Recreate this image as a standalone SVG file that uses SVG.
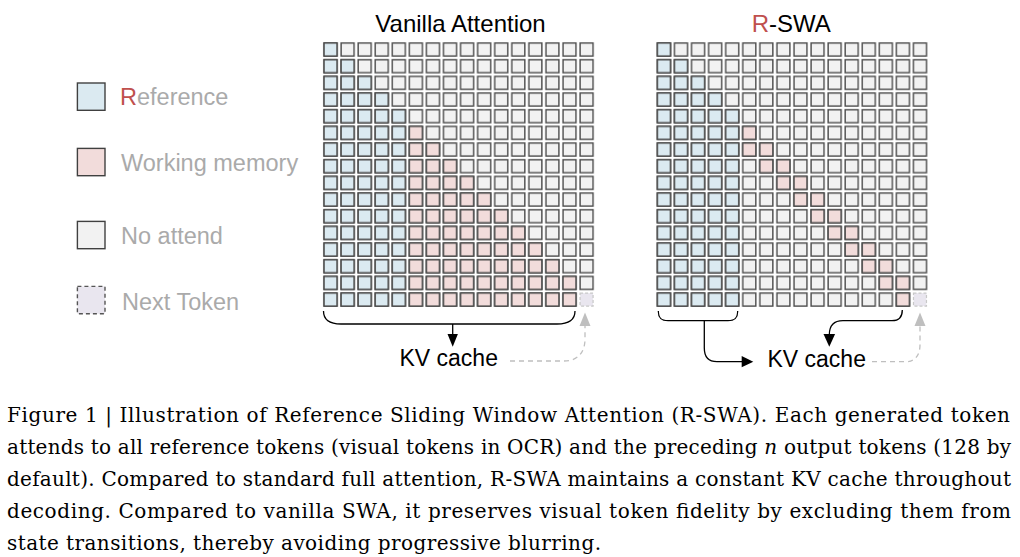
<svg xmlns="http://www.w3.org/2000/svg" width="1020" height="557" viewBox="0 0 1020 557">
<style>
.sans{font-family:"Liberation Sans",Arial,sans-serif}
.title{font-size:24px;fill:#000}
.leg{font-size:23.5px;fill:#aaaaaa}
.red{fill:#c0504d}
.kv{font-size:23px;fill:#000}
.cap{font-family:"DejaVu Serif","Liberation Serif",serif;font-size:20px;fill:#000}
.lb{stroke:#404040;stroke-width:1.4}
.ln{fill:none;stroke:#000;stroke-width:1.3}
.dash{fill:none;stroke:#bfbfbf;stroke-width:1.3;stroke-dasharray:5 4}
.next{fill:#e9e6ef;stroke:#c8c8c8;stroke-width:1.2;stroke-dasharray:3 2}
</style>
<defs>
<pattern id="pg" patternUnits="userSpaceOnUse" x="0" y="0" width="17.07" height="16.67"><rect x="2.035" y="1.835" width="13" height="13" fill="#f2f2f2" stroke="#4a4a4a" stroke-width="1.4"/></pattern>
<pattern id="pb" patternUnits="userSpaceOnUse" x="0" y="0" width="17.07" height="16.67"><rect x="2.035" y="1.835" width="13" height="13" fill="#dbeaf1" stroke="#4a4a4a" stroke-width="1.4"/></pattern>
<pattern id="pp" patternUnits="userSpaceOnUse" x="0" y="0" width="17.07" height="16.67"><rect x="2.035" y="1.835" width="13" height="13" fill="#f2dcdb" stroke="#4a4a4a" stroke-width="1.4"/></pattern>
</defs>

<rect width="1020" height="557" fill="#fff"/>

<g id="legend-reference">
<rect class="lb" x="77.4" y="83" width="27.6" height="27.3" fill="#dbeaf1"/>
<text class="sans leg" x="120" y="105"><tspan class="red">R</tspan>eference</text>
</g>
<g id="legend-working">
<rect class="lb" x="77.4" y="148.4" width="27.6" height="27.3" fill="#f2dcdb"/>
<text class="sans leg" x="121" y="171">Working memory</text>
</g>
<g id="legend-noattend">
<rect class="lb" x="77.4" y="221.4" width="27.6" height="27.3" fill="#f2f2f2"/>
<text class="sans leg" x="121" y="243.5">No attend</text>
</g>
<g id="legend-next">
<rect x="77.4" y="286.4" width="27.6" height="27.3" fill="#e9e6ef" stroke="#555" stroke-width="1.4" stroke-dasharray="4 3"/>
<text class="sans leg" x="122" y="310">Next Token</text>
</g>

<g id="vanilla">
<text class="sans title" x="460.5" y="32" text-anchor="middle">Vanilla Attention</text>
<g transform="translate(322,41.2)">
<polygon fill="url(#pg)" points="0,0 273.12,0 273.12,250.05 256.05,250.05 256.05,266.72 0,266.72"/>
<polygon fill="url(#pb)" points="0,0 17.07,0 17.07,16.67 34.14,16.67 34.14,33.34 51.21,33.34 51.21,50.01 68.28,50.01 68.28,66.68 85.35,66.68 85.35,266.72 0,266.72"/>
<polygon fill="url(#pp)" points="85.35,83.35 102.42,83.35 102.42,100.02 119.49,100.02 119.49,116.69 136.56,116.69 136.56,133.36 153.63,133.36 153.63,150.03 170.7,150.03 170.7,166.7 187.77,166.7 187.77,183.37 204.84,183.37 204.84,200.04 221.91,200.04 221.91,216.71 238.98,216.71 238.98,233.38 256.05,233.38 256.05,266.72 85.35,266.72"/>
<rect class="next" x="258.085" y="251.885" width="13" height="13"/>
</g>
<text class="sans kv" x="399.5" y="366">KV cache</text>
</g>

<g id="rswa">
<text class="sans title" x="791.3" y="32" text-anchor="middle"><tspan class="red">R</tspan>-SWA</text>
<g transform="translate(655.4,41.2)">
<polygon fill="url(#pg)" points="0,0 273.12,0 273.12,250.05 256.05,250.05 256.05,266.72 0,266.72"/>
<polygon fill="url(#pb)" points="0,0 17.07,0 17.07,16.67 34.14,16.67 34.14,33.34 51.21,33.34 51.21,50.01 68.28,50.01 68.28,66.68 85.35,66.68 85.35,266.72 0,266.72"/>
<polygon fill="url(#pp)" points="85.35,83.35 102.42,83.35 102.42,100.02 119.49,100.02 119.49,116.69 136.56,116.69 136.56,133.36 153.63,133.36 153.63,150.03 170.7,150.03 170.7,166.7 187.77,166.7 187.77,183.37 204.84,183.37 204.84,200.04 221.91,200.04 221.91,216.71 238.98,216.71 238.98,233.38 256.05,233.38 256.05,266.72 238.98,266.72 238.98,250.05 221.91,250.05 221.91,233.38 204.84,233.38 204.84,216.71 187.77,216.71 187.77,200.04 170.7,200.04 170.7,183.37 153.63,183.37 153.63,166.7 136.56,166.7 136.56,150.03 119.49,150.03 119.49,133.36 102.42,133.36 102.42,116.69 85.35,116.69"/>
<rect class="next" x="258.085" y="251.885" width="13" height="13"/>
</g>
<text class="sans kv" x="767.5" y="367">KV cache</text>
</g>

<g id="connectors">
<path class="ln" d="M323.5,311 C323.5,320 329,324 341,324 L557,324 C569,324 575,320 575,311"/>
<path class="ln" d="M452.7,324 L452.7,335"/>
<polygon points="452.7,346.7 447.5,334 457.9,334" fill="#000"/>
<path class="dash" d="M510,361 L564,361 C578,361 585,352 585,339 L585,326"/>
<polygon points="585,312.5 579.5,326 590.5,326" fill="#bfbfbf"/>

<path class="ln" d="M658.3,311 C658.3,318 661,320.7 668,320.7 L728,320.7 C735,320.7 737.7,318 737.7,311"/>
<path class="ln" d="M704.3,320.7 L704.3,348 C704.3,357 709,361.7 717,361.7 L742,361.7"/>
<polygon points="753.3,361.7 741.7,356 741.7,367.3" fill="#000"/>
<path class="ln" d="M902.3,310 C902.3,317 899,320.7 892,320.7 L843,320.7 C834,320.7 829.3,326 829.3,335"/>
<polygon points="829.3,346.7 823.5,334 835.1,334" fill="#000"/>
<path class="dash" d="M872,361.7 L906,361.7 C915,361.7 920,355 920,345 L920,326"/>
<polygon points="920,312.5 914.5,326 925.5,326" fill="#bfbfbf"/>
</g>

<g id="caption">
<text class="cap" x="7" y="422" textLength="1003" lengthAdjust="spacing">Figure 1 | Illustration of Reference Sliding Window Attention (R-SWA). Each generated token</text>
<text class="cap" x="7" y="454" textLength="1004" lengthAdjust="spacing">attends to all reference tokens (visual tokens in OCR) and the preceding <tspan font-style="italic">n</tspan> output tokens (128 by</text>
<text class="cap" x="7" y="486" textLength="1004" lengthAdjust="spacing">default). Compared to standard full attention, R-SWA maintains a constant KV cache throughout</text>
<text class="cap" x="7" y="518" textLength="1004" lengthAdjust="spacing">decoding. Compared to vanilla SWA, it preserves visual token fidelity by excluding them from</text>
<text class="cap" x="7" y="550" textLength="594" lengthAdjust="spacing">state transitions, thereby avoiding progressive blurring.</text>
</g>
</svg>
